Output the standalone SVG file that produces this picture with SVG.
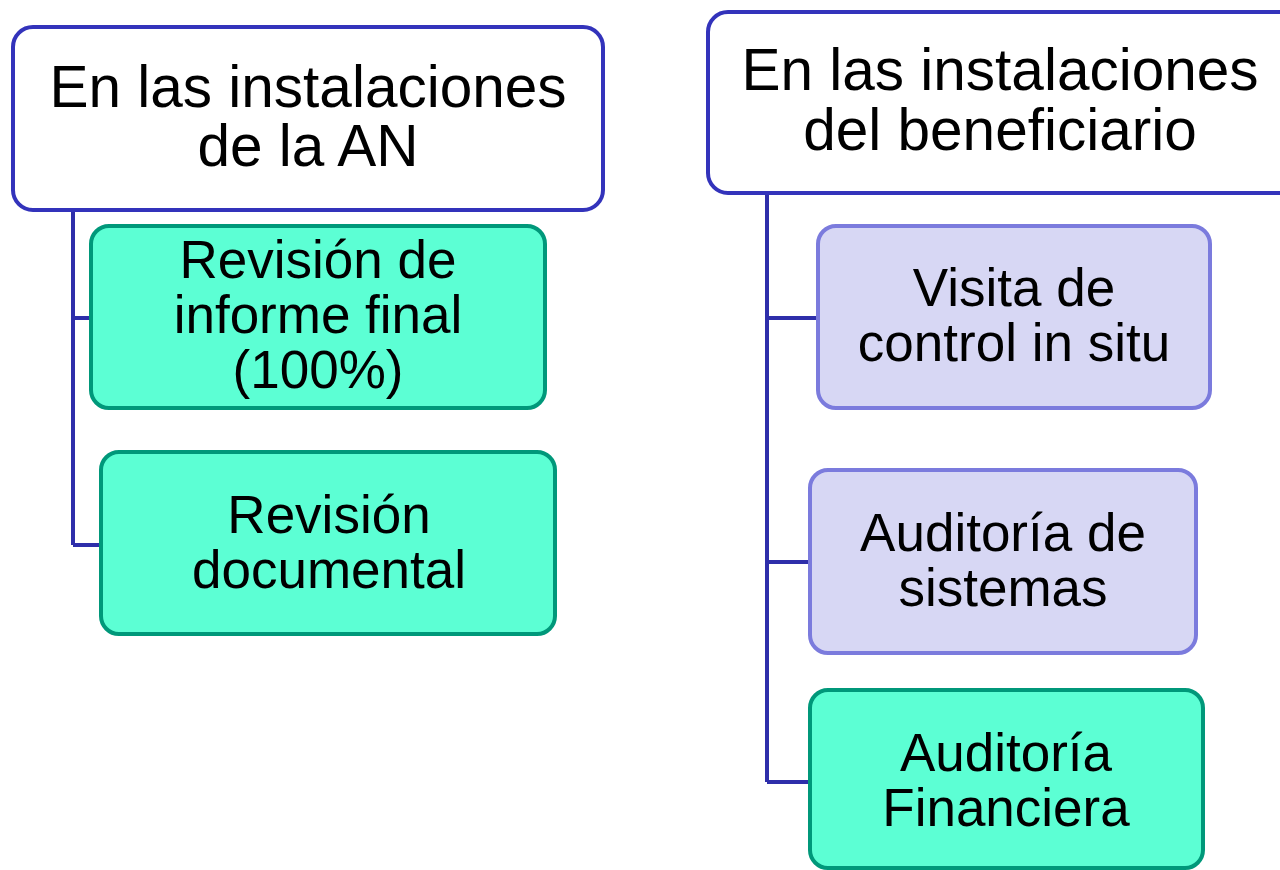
<svg xmlns="http://www.w3.org/2000/svg" width="1280" height="870" viewBox="0 0 1280 870">
<style>
text{font-family:"Liberation Sans",Arial,sans-serif;fill:#000;text-anchor:middle}
.hd{fill:#fff;stroke:#3333BB;stroke-width:4}
.hd-t{font-size:58.5px}
.gr{fill:#5CFFD4;stroke:#00987A;stroke-width:4}
.lv{fill:#D7D7F4;stroke:#7B7BDD;stroke-width:4}
.ch-t{font-size:53px}
.con{fill:none;stroke:#2E2EAA;stroke-width:4}
</style>
<rect width="1280" height="870" fill="#fff"/>
<g id="connectors">
<path class="con" d="M73 210 V545 M73 318 H91 M73 545 H101"/>
<path class="con" d="M767 193 V782 M767 318 H818 M767 562 H810 M767 782 H810"/>
</g>
<g id="header-an">
<rect class="hd" x="13" y="27" width="590" height="183" rx="20"/>
<text class="hd-t" x="308" y="107">En las instalaciones</text>
<text class="hd-t" x="308" y="166">de la AN</text>
</g>
<g id="header-beneficiario">
<rect class="hd" x="708" y="12" width="600" height="181" rx="20"/>
<text class="hd-t" x="1000" y="90">En las instalaciones</text>
<text class="hd-t" x="1000" y="150">del beneficiario</text>
</g>
<g id="revision-informe">
<rect class="gr" x="91" y="226" width="454" height="182" rx="18"/>
<text class="ch-t" x="318" y="278">Revisión de</text>
<text class="ch-t" x="318" y="333">informe final</text>
<text class="ch-t" x="318" y="388">(100%)</text>
</g>
<g id="revision-documental">
<rect class="gr" x="101" y="452" width="454" height="182" rx="18"/>
<text class="ch-t" x="329" y="533">Revisión</text>
<text class="ch-t" x="329" y="588">documental</text>
</g>
<g id="visita-control">
<rect class="lv" x="818" y="226" width="392" height="182" rx="18"/>
<text class="ch-t" x="1014" y="306">Visita de</text>
<text class="ch-t" x="1014" y="361">control in situ</text>
</g>
<g id="auditoria-sistemas">
<rect class="lv" x="810" y="470" width="386" height="183" rx="18"/>
<text class="ch-t" x="1003" y="551">Auditoría de</text>
<text class="ch-t" x="1003" y="606">sistemas</text>
</g>
<g id="auditoria-financiera">
<rect class="gr" x="810" y="690" width="393" height="178" rx="18"/>
<text class="ch-t" x="1006" y="771">Auditoría</text>
<text class="ch-t" x="1006" y="826">Financiera</text>
</g>
</svg>
